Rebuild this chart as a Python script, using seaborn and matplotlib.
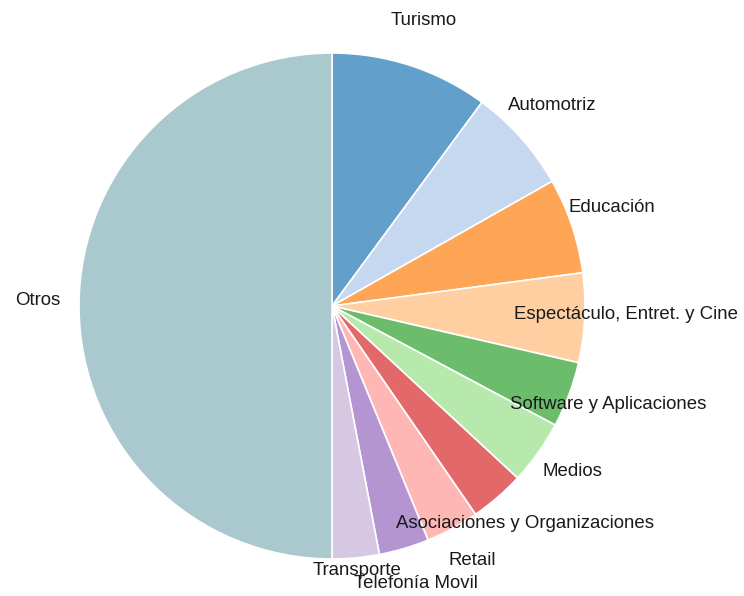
import seaborn as sns
import matplotlib.pyplot as plt
import numpy as np

# sector share (percent), clockwise from 12 o'clock
sectors = ['Turismo', 'Automotriz', 'Educación', 'Espectáculo, Entret. y Cine',
           'Software y Aplicaciones', 'Medios', 'Asociaciones y Organizaciones',
           'Retail', 'Telefonía Movil', 'Transporte', 'Otros']
shares = [10.1, 6.7, 6.1, 5.7, 4.2, 4.1, 3.5, 3.4, 3.2, 3.0, 50.0]

sns.set_theme(style='white')
plt.rcParams['font.family'] = ['Liberation Sans', 'DejaVu Sans']

# category20 colours, slightly washed out, last one custom
palette = sns.color_palette('tab20', 10)
colors = [tuple(0.7 * c + 0.3 for c in col) for col in palette] + ['#a9c9cf']

W, H = 744, 596
R = 253          # pie radius in px
cx, cy = 332, 306  # centre in px (from top-left)

fig = plt.figure(figsize=(W / 100, H / 100), dpi=100)
ax = fig.add_axes([0, 0, 1, 1])

wedges, _ = ax.pie(shares, colors=colors, startangle=90, counterclock=False,
                   wedgeprops=dict(edgecolor='white', linewidth=1.2))

ax.set_xlim(-cx / R, (W - cx) / R)
ax.set_ylim(-(H - cy) / R, cy / R)
ax.set_aspect('auto')
ax.axis('off')

# labels sit outside the pie at the middle of each slice
label_r = {'Transporte': 1.07}
for w, name in zip(wedges, sectors):
    mid = np.deg2rad((w.theta1 + w.theta2) / 2)
    r = label_r.get(name, 1.165)
    ax.text(r * np.cos(mid), r * np.sin(mid) + 0.02, name, ha='center', va='center',
            fontsize=13.4, color='#1a1a1a')

fig.savefig('out.png', dpi=100)
